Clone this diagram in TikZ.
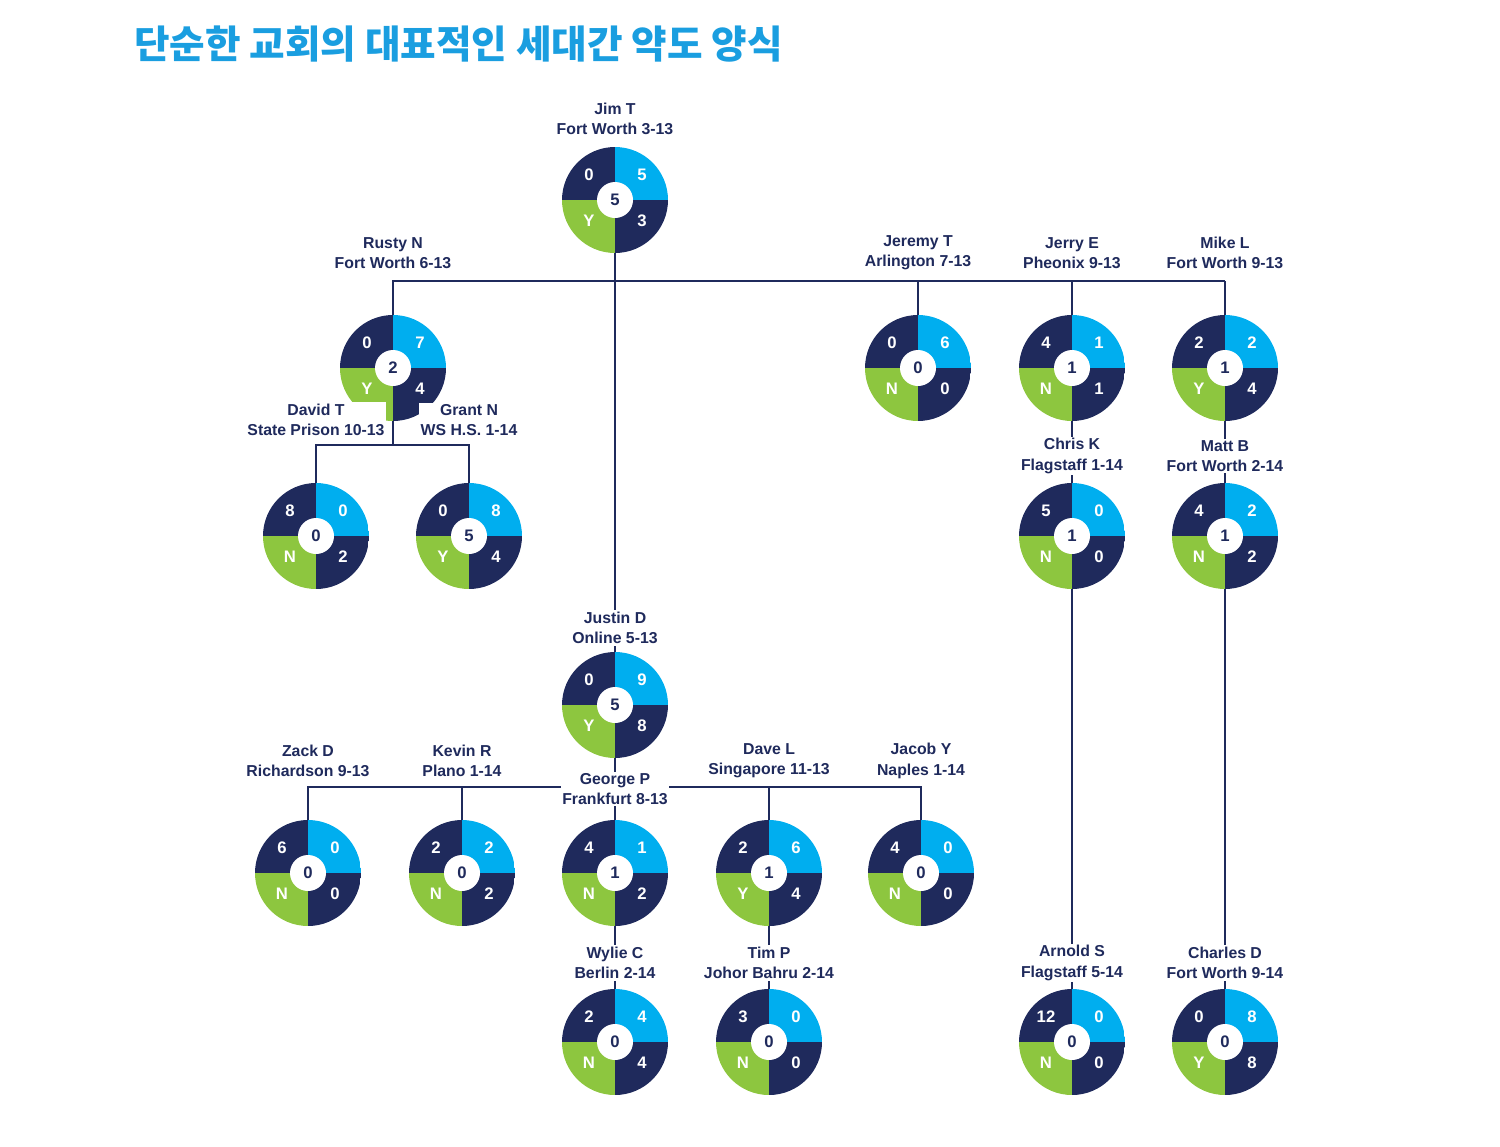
\documentclass[tikz,border=0pt]{standalone}
\usepackage{fontspec}
\setmainfont{Liberation Sans}
\newfontfamily\kr{Noto Sans CJK KR}
\usetikzlibrary{backgrounds}
\definecolor{navy}{HTML}{1F2A5C}
\definecolor{sky}{HTML}{00AEEF}
\definecolor{lime}{HTML}{8DC63F}
\definecolor{ttl}{HTML}{1A9EE0}
\tikzset{
  lbl/.style={align=center,font=\bfseries\fontsize{9}{11.5}\selectfont,text=navy,fill=white,inner sep=1pt},
  qnum/.style={font=\bfseries\fontsize{9.5}{12}\selectfont,text=white},
  link/.style={draw=navy,line width=1.2pt}
}
% \gen{name}{x,y}{tl}{tr}{br}{bl}{centre}
\newcommand\gen[7]{
  \begin{scope}[shift={(#2)}]
    \begin{scope}
      \clip (0,0) circle (53);
      \fill[navy] (-53,-53) rectangle (0,0);
      \fill[sky] (0,-53) rectangle (53,0);
      \fill[navy] (0,0) rectangle (53,53);
      \fill[lime] (-53,0) rectangle (0,53);
    \end{scope}
    \fill[white] (0,0) circle (18);
    \node[qnum] at (-26,-25) {#3};
    \node[qnum] at (27,-25) {#4};
    \node[qnum] at (27,21) {#5};
    \node[qnum] at (-26,21) {#6};
    \node[qnum,text=navy] at (0,0) {#7};
  \end{scope}
  \node[circle,minimum size=2.1cm,inner sep=0] (#1) at (#2) {};
}
\begin{document}
\begin{tikzpicture}[x=0.02cm,y=-0.02cm]
\useasboundingbox (0,0) rectangle (1500,1146);
\node[anchor=west,font=\kr\bfseries\fontsize{22}{24}\selectfont,text=ttl] (title) at (128,44) {단순한 교회의 대표적인 세대간 약도 양식};

\gen{jim}{615,200}{0}{5}{3}{Y}{5}
\gen{rusty}{393,368}{0}{7}{4}{Y}{2}
\gen{jeremy}{918,368}{0}{6}{0}{N}{0}
\gen{jerry}{1072,368}{4}{1}{1}{N}{1}
\gen{mike}{1225,368}{2}{2}{4}{Y}{1}
\gen{david}{316,536}{8}{0}{2}{N}{0}
\gen{grant}{469,536}{0}{8}{4}{Y}{5}
\gen{chris}{1072,536}{5}{0}{0}{N}{1}
\gen{matt}{1225,536}{4}{2}{2}{N}{1}
\gen{justin}{615,705}{0}{9}{8}{Y}{5}
\gen{zack}{308,873}{6}{0}{0}{N}{0}
\gen{kevin}{462,873}{2}{2}{2}{N}{0}
\gen{george}{615,873}{4}{1}{2}{N}{1}
\gen{dave}{769,873}{2}{6}{4}{Y}{1}
\gen{jacob}{921,873}{4}{0}{0}{N}{0}
\gen{wylie}{615,1042}{2}{4}{4}{N}{0}
\gen{tim}{769,1042}{3}{0}{0}{N}{0}
\gen{arnold}{1072,1042}{12}{0}{0}{N}{0}
\gen{charles}{1225,1042}{0}{8}{8}{Y}{0}

% names
\node[lbl] (jimL) at (615,119) {Jim T\\Fort Worth 3-13};
\node[lbl] (rustyL) at (393,253) {Rusty N\\Fort Worth 6-13};
\node[lbl] (jeremyL) at (918,253) {Jeremy T\\Arlington 7-13};
\node[lbl] (jerryL) at (1072,253) {Jerry E\\Pheonix 9-13};
\node[lbl] (mikeL) at (1225,253) {Mike L\\Fort Worth 9-13};
\node[lbl] (davidL) at (316,420) {David T\\State Prison 10-13};
\node[lbl] (grantL) at (469,420) {Grant N\\WS H.S. 1-14};
\node[lbl] (chrisL) at (1072,456) {Chris K\\Flagstaff 1-14};
\node[lbl] (mattL) at (1225,456) {Matt B\\Fort Worth 2-14};
\node[lbl] (justinL) at (615,628) {Justin D\\Online 5-13};
\node[lbl] (zackL) at (308,761) {Zack D\\Richardson 9-13};
\node[lbl] (kevinL) at (462,761) {Kevin R\\Plano 1-14};
\node[lbl] (georgeL) at (615,789) {George P\\Frankfurt 8-13};
\node[lbl] (daveL) at (769,761) {Dave L\\Singapore 11-13};
\node[lbl] (jacobL) at (921,761) {Jacob Y\\Naples 1-14};
\node[lbl] (wylieL) at (615,963) {Wylie C\\Berlin 2-14};
\node[lbl] (timL) at (769,963) {Tim P\\Johor Bahru 2-14};
\node[lbl] (arnoldL) at (1072,963) {Arnold S\\Flagstaff 5-14};
\node[lbl] (charlesL) at (1225,963) {Charles D\\Fort Worth 9-14};

\coordinate (topbar) at (1225,281);
\coordinate (rbar) at (393,445);
\coordinate (jbar) at (615,787);
\begin{scope}[on background layer]
\draw[link] (jim) -- (justin);
\draw[link] (rusty) |- (topbar);
\draw[link] (jeremy) |- (topbar);
\draw[link] (jerry) |- (topbar);
\draw[link] (mike) -- (topbar);
\draw[link] (rusty) -- (rbar);
\draw[link] (david) |- (rbar) -| (grant);
\draw[link] (jerry) -- (chris);
\draw[link] (chris) -- (arnold);
\draw[link] (mike) -- (matt);
\draw[link] (matt) -- (charles);
\draw[link] (justin) -- (george);
\draw[link] (zack) |- (jbar) -| (jacob);
\draw[link] (kevin) |- (jbar);
\draw[link] (dave) |- (jbar);
\draw[link] (george) -- (wylie);
\draw[link] (dave) -- (tim);
\end{scope}
\end{tikzpicture}
\end{document}
